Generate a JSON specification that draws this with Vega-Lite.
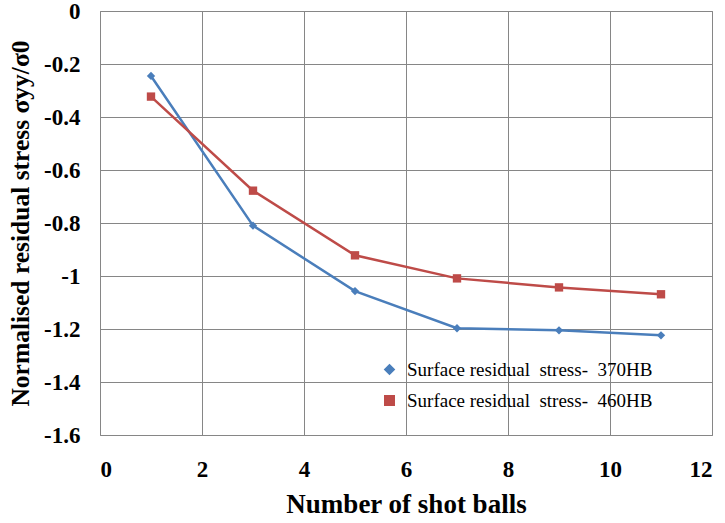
{
  "$schema": "https://vega.github.io/schema/vega-lite/v6.json",
  "autosize": "none",
  "width": 612,
  "height": 424,
  "padding": {"left": 100, "top": 11, "right": 13, "bottom": 88},
  "background": "white",
  "config": {
    "view": {"stroke": "#868686", "strokeWidth": 1},
    "font": "Liberation Serif"
  },
  "data": {
    "values": [
      {"balls": 1, "stress": -0.245, "series": "Surface residual\u00a0 stress-\u00a0 370HB"},
      {"balls": 3, "stress": -0.81, "series": "Surface residual\u00a0 stress-\u00a0 370HB"},
      {"balls": 5, "stress": -1.057, "series": "Surface residual\u00a0 stress-\u00a0 370HB"},
      {"balls": 7, "stress": -1.197, "series": "Surface residual\u00a0 stress-\u00a0 370HB"},
      {"balls": 9, "stress": -1.205, "series": "Surface residual\u00a0 stress-\u00a0 370HB"},
      {"balls": 11, "stress": -1.224, "series": "Surface residual\u00a0 stress-\u00a0 370HB"},
      {"balls": 1, "stress": -0.323, "series": "Surface residual\u00a0 stress-\u00a0 460HB"},
      {"balls": 3, "stress": -0.678, "series": "Surface residual\u00a0 stress-\u00a0 460HB"},
      {"balls": 5, "stress": -0.922, "series": "Surface residual\u00a0 stress-\u00a0 460HB"},
      {"balls": 7, "stress": -1.009, "series": "Surface residual\u00a0 stress-\u00a0 460HB"},
      {"balls": 9, "stress": -1.043, "series": "Surface residual\u00a0 stress-\u00a0 460HB"},
      {"balls": 11, "stress": -1.069, "series": "Surface residual\u00a0 stress-\u00a0 460HB"}
    ]
  },
  "mark": {"type": "line", "strokeWidth": 2.5, "point": {"filled": true, "size": 70, "opacity": 1}},
  "encoding": {
    "x": {
      "field": "balls", "type": "quantitative",
      "scale": {"domain": [0, 12], "nice": false},
      "axis": {
        "values": [0, 2, 4, 6, 8, 10, 12],
        "title": "Number of shot balls",
        "titleFont": "Liberation Serif", "titleFontSize": 27, "titleFontWeight": "bold", "titleColor": "black",
        "titlePadding": 10,
        "labelFont": "Liberation Serif", "labelFontSize": 23, "labelFontWeight": "bold", "labelColor": "black",
        "labelPadding": 23, "ticks": false, "domain": false,
        "gridColor": "#868686", "gridOpacity": 1
      }
    },
    "y": {
      "field": "stress", "type": "quantitative",
      "scale": {"domain": [-1.6, 0], "nice": false},
      "axis": {
        "values": [-1.6, -1.4, -1.2, -1.0, -0.8, -0.6, -0.4, -0.2, 0],
        "labelExpr": "'' + round(datum.value*10)/10",
        "title": "Normalised residual stress σyy/σ0",
        "titleFont": "Liberation Serif", "titleFontSize": 25.5, "titleFontWeight": "bold", "titleColor": "black",
        "titlePadding": 10,
        "labelFont": "Liberation Serif", "labelFontSize": 23, "labelFontWeight": "bold", "labelColor": "black",
        "labelPadding": 20, "ticks": false, "domain": false,
        "gridColor": "#868686", "gridOpacity": 1
      }
    },
    "color": {
      "field": "series", "type": "nominal",
      "scale": {"range": ["#4a7ebb", "#be4b48"]},
      "legend": {
        "title": null, "orient": "none", "legendX": 280, "legendY": 349,
        "labelFont": "Liberation Serif", "labelFontSize": 19, "labelColor": "black",
        "symbolSize": 90, "rowPadding": 11, "labelLimit": 400, "labelOffset": 8,
        "encode": {"symbols": {"update": {"shape": {"signal": "indexof(datum.label, '370') >= 0 ? 'diamond' : 'square'"}}}}
      }
    },
    "shape": {
      "field": "series", "type": "nominal",
      "scale": {"range": ["diamond", "square"]},
      "legend": null
    }
  }
}
